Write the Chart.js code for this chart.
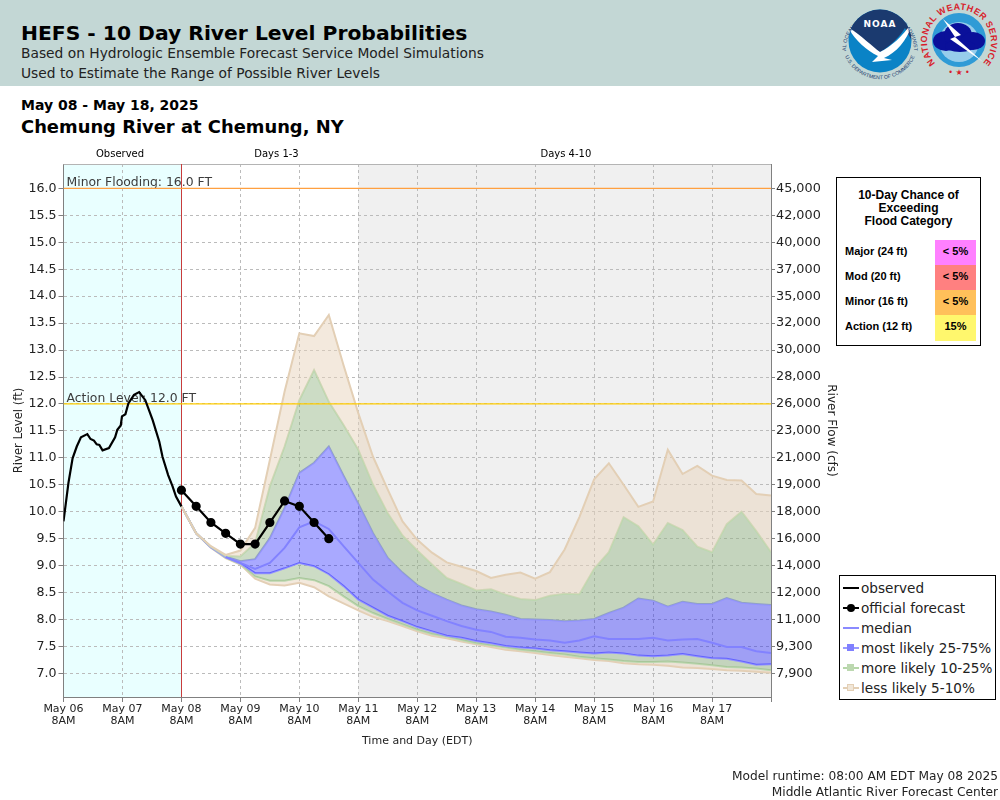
<!DOCTYPE html>
<html>
<head>
<meta charset="utf-8">
<title>HEFS - 10 Day River Level Probabilities</title>
<script src="https://cdn.jsdelivr.net/npm/chart.js@4"></script>
<style>
    html, body { margin: 0; padding: 0; background: #fff; }
    body { position: relative; width: 1000px; height: 800px; overflow: hidden; font-family: "DejaVu Sans", sans-serif; color: #000; }
    canvas { position: absolute; left: 0; top: 0; }
    .txt { position: absolute; white-space: nowrap; line-height: 1; }
    #header { position: absolute; left: 0; top: 0; width: 1000px; height: 86px; background: #c3d7d5; }
    #logos { position: absolute; left: 836px; top: 0; }
    #flood { position: absolute; left: 836px; top: 177px; width: 143px; height: 167px; border: 1px solid #000; background: #fff; font-family: "Liberation Sans", sans-serif; font-weight: bold; }
    #flood .head { position: absolute; left: 0; top: 11px; width: 143px; text-align: center; font-size: 12px; line-height: 13px; }
    #flood .name { position: absolute; left: 8px; font-size: 11px; line-height: 23px; }
    #flood .cell { position: absolute; left: 98px; width: 41px; height: 25px; font-size: 11px; line-height: 23px; text-align: center; }
    #legend { position: absolute; left: 839px; top: 575px; width: 155px; height: 123px; border: 1px solid #000; background: #fff; font-size: 13.6px; }
    #legend .row { position: absolute; left: 21px; line-height: 20px; white-space: nowrap; color: #222; }
    #legend .sw { position: absolute; left: 3px; width: 16px; height: 2px; }
    #legend .mk { position: absolute; left: 4px; top: -3px; width: 7px; height: 7px; }
    #legend .dot { position: absolute; left: 4px; top: -3px; width: 8px; height: 8px; border-radius: 50%; background: #000; }
</style>
</head>
<body>
<div id="header">
    <div class="txt" style="left:21px;top:23px;font-size:20.3px;font-weight:bold">HEFS - 10 Day River Level Probabilities</div>
    <div class="txt" style="left:21px;top:47px;font-size:13.8px;color:#222">Based on Hydrologic Ensemble Forecast Service Model Simulations</div>
    <div class="txt" style="left:21px;top:67px;font-size:13.8px;color:#222">Used to Estimate the Range of Possible River Levels</div>
    <svg id="logos" width="164" height="85" viewBox="836 0 164 85">
        <defs>
            <path id="noaaTop" d="M 846 50 A 34 34 0 1 1 914 50"/>
            <path id="noaaBot" d="M 845 56 A 38 38 0 0 0 915 56"/>
            <path id="nwsTop" d="M 936 64 A 32 32 0 1 1 982 64"/>
            <clipPath id="noaaClip"><circle cx="880" cy="41" r="31.5"/></clipPath>
        </defs>
        <circle cx="880" cy="41" r="31.5" fill="#0a83c6"/>
        <path d="M 848 41 A 32 32 0 0 1 912 41 L 905 28 C 895 44 880 52 880 52 C 868 46 858 36 848 29 Z" fill="#1b3a6f" clip-path="url(#noaaClip)"/>
        <path d="M 847 26 C 862 36 872 46 880 52 C 892 46 903 36 913 21 C 908 40 897 52 884 58 L 892 60 L 872 62 L 878 56 C 866 50 855 40 847 26 Z" fill="#fff" clip-path="url(#noaaClip)"/>
        <text x="880" y="27" text-anchor="middle" fill="#fff" font-family="DejaVu Sans" font-weight="bold" font-size="9" letter-spacing="1">NOAA</text>
        <text font-family="Liberation Sans" font-size="5.2" fill="#1b3a6f"><textPath href="#noaaTop" startOffset="50%" text-anchor="middle">NATIONAL OCEANIC AND ATMOSPHERIC ADMINISTRATION</textPath></text>
        <text font-family="Liberation Sans" font-size="5.2" fill="#1b3a6f"><textPath href="#noaaBot" startOffset="50%" text-anchor="middle">U.S. DEPARTMENT OF COMMERCE</textPath></text>

        <circle cx="959" cy="40" r="27" fill="#2f9bd6"/>
        <circle cx="959" cy="42" r="20" fill="#ffffff" opacity="0.5"/>
        <g fill="#0a109a">
            <ellipse cx="946" cy="41" rx="13" ry="10"/>
            <ellipse cx="958" cy="35" rx="14" ry="12"/>
            <ellipse cx="973" cy="41" rx="12" ry="9"/>
            <ellipse cx="960" cy="46" rx="15" ry="6"/>
        </g>
        <polygon points="943,19 961,35 955,37 973,53 983,62 966,50 950,39 955,37" fill="#fff"/>
        <text font-family="Liberation Sans" font-weight="bold" font-size="9" fill="#d81e2c" letter-spacing="0.5"><textPath href="#nwsTop" startOffset="50%" text-anchor="middle">NATIONAL WEATHER SERVICE</textPath></text>
        <text x="959" y="75" text-anchor="middle" fill="#d81e2c" font-size="8" font-family="DejaVu Sans">• ★ •</text>
    </svg>
</div>

<div class="txt" style="left:21px;top:98px;font-size:14px;font-weight:bold">May 08 - May 18, 2025</div>
<div class="txt" style="left:21px;top:118px;font-size:17.9px;font-weight:bold">Chemung River at Chemung, NY</div>

<canvas id="riverChart" width="1000" height="800"></canvas>

<div id="flood">
    <div class="head">10-Day Chance of<br>Exceeding<br>Flood Category</div>
    <div class="name" style="top:62px">Major (24 ft)</div>
    <div class="cell" style="top:62px;background:#ff80ff">&lt; 5%</div>
    <div class="name" style="top:87px">Mod (20 ft)</div>
    <div class="cell" style="top:87px;background:#ff8080">&lt; 5%</div>
    <div class="name" style="top:112px">Minor (16 ft)</div>
    <div class="cell" style="top:112px;background:#ffc05a">&lt; 5%</div>
    <div class="name" style="top:137px">Action (12 ft)</div>
    <div class="cell" style="top:137px;background:#fff76d;height:26px">15%</div>
</div>

<div id="legend">
    <div class="sw" style="top:11px;background:#000"></div>
    <div class="row" style="top:2px">observed</div>
    <div class="sw" style="top:31px;background:#000"><div class="dot"></div></div>
    <div class="row" style="top:22px">official forecast</div>
    <div class="sw" style="top:51px;background:#8a8aff"></div>
    <div class="row" style="top:42px">median</div>
    <div class="sw" style="top:71px;background:#9a9aff"><div class="mk" style="background:#8080ff"></div></div>
    <div class="row" style="top:62px">most likely 25-75%</div>
    <div class="sw" style="top:91px;background:#b5d6a8"><div class="mk" style="background:#bcd8b0"></div></div>
    <div class="row" style="top:82px">more likely 10-25%</div>
    <div class="sw" style="top:111px;background:#e3cfb5"><div class="mk" style="background:#f0e6d8;outline:1px solid #e3cfb5;outline-offset:-1px"></div></div>
    <div class="row" style="top:102px">less likely 5-10%</div>
</div>

<div class="txt" style="right:2px;top:770px;font-size:12.2px;color:#222">Model runtime: 08:00 AM EDT May 08 2025</div>
<div class="txt" style="right:2px;top:786px;font-size:12.2px;color:#222">Middle Atlantic River Forecast Center</div>

<script>
// axis labels
const dayLabels = ["May 06", "May 07", "May 08", "May 09", "May 10", "May 11", "May 12", "May 13", "May 14", "May 15", "May 16", "May 17"];
const levelTicks = [7.0, 7.5, 8.0, 8.5, 9.0, 9.5, 10.0, 10.5, 11.0, 11.5, 12.0, 12.5, 13.0, 13.5, 14.0, 14.5, 15.0, 15.5, 16.0];
const flowTicks = ["7,900", "9,300", "11,000", "12,000", "14,000", "16,000", "18,000", "19,000", "21,000", "23,000", "26,000", "28,000", "30,000", "32,000", "35,000", "37,000", "40,000", "42,000", "45,000"];

// observed stage, hours since May 06 8AM
const observedHours = [0, 2, 3.7, 5.4, 7.1, 9.7, 11, 12.4, 13.5, 14.6, 15.9, 18.5, 21, 21.9, 23.3, 23.8, 25.2, 26.4, 28.7, 30.8, 33.3, 36.3, 39, 40.3, 42.6, 44.4, 45.8, 48];
const observedLevels = [9.82, 10.53, 10.99, 11.21, 11.38, 11.44, 11.35, 11.32, 11.25, 11.24, 11.14, 11.18, 11.38, 11.52, 11.60, 11.77, 11.81, 12.01, 12.17, 12.22, 12.07, 11.70, 11.30, 11.02, 10.68, 10.47, 10.28, 10.10];

// official forecast
const forecastHours = [48, 54, 60, 66, 72, 78, 84, 90, 96, 102, 108];
const forecastLevels = [10.4, 10.1, 9.8, 9.6, 9.4, 9.4, 9.8, 10.2, 10.1, 9.8, 9.5];

// ensemble percentiles, every 6 hours
const ensembleHours = [48, 54, 60, 66, 72, 78, 84, 90, 96, 102, 108, 114, 120, 126, 132, 138, 144, 150, 156, 162, 168, 174, 180, 186, 192, 198, 204, 210, 216, 222, 228, 234, 240, 246, 252, 258, 264, 270, 276, 282, 288];
const p95 = [10.1, 9.6, 9.36, 9.2, 9.28, 9.7, 10.96, 12.23, 13.31, 13.26, 13.65, 12.72, 11.83, 11.02, 10.41, 9.82, 9.48, 9.24, 9.06, 8.98, 8.9, 8.77, 8.83, 8.87, 8.76, 8.88, 9.3, 9.9, 10.6, 10.9, 10.5, 10.09, 10.19, 11.15, 10.7, 10.85, 10.67, 10.59, 10.58, 10.33, 10.3];
const p90 = [10.1, 9.6, 9.35, 9.18, 9.17, 9.42, 10.47, 11.21, 12.07, 12.63, 12.04, 11.61, 11.15, 10.5, 9.97, 9.56, 9.28, 9.02, 8.77, 8.66, 8.54, 8.56, 8.46, 8.38, 8.36, 8.44, 8.48, 8.47, 8.94, 9.25, 9.9, 9.73, 9.39, 9.79, 9.66, 9.35, 9.25, 9.77, 10.0, 9.64, 9.25];
const p75 = [10.1, 9.6, 9.34, 9.17, 9.08, 9.12, 9.51, 10.07, 10.72, 10.91, 11.21, 10.67, 10.15, 9.6, 9.14, 8.87, 8.64, 8.49, 8.37, 8.26, 8.19, 8.15, 8.09, 8.01, 8.0, 7.99, 7.97, 7.98, 8.01, 8.12, 8.22, 8.39, 8.35, 8.24, 8.33, 8.29, 8.29, 8.4, 8.31, 8.29, 8.27];
const p50 = [null, null, null, 9.16, 9.05, 8.94, 9.05, 9.33, 9.71, 9.82, 9.68, 9.36, 9.05, 8.74, 8.52, 8.31, 8.17, 8.07, 7.97, 7.88, 7.81, 7.77, 7.68, 7.66, 7.63, 7.61, 7.57, 7.61, 7.69, 7.64, 7.64, 7.64, 7.66, 7.61, 7.63, 7.64, 7.57, 7.49, 7.49, 7.41, 7.38];
const p25 = [10.1, 9.6, 9.34, 9.16, 9.04, 8.86, 8.86, 8.95, 9.05, 8.99, 8.84, 8.62, 8.37, 8.22, 8.07, 7.97, 7.86, 7.78, 7.7, 7.66, 7.6, 7.56, 7.51, 7.48, 7.46, 7.43, 7.41, 7.39, 7.37, 7.39, 7.37, 7.33, 7.32, 7.33, 7.36, 7.32, 7.28, 7.27, 7.22, 7.16, 7.17];
const p10 = [10.1, 9.6, 9.34, 9.15, 9.03, 8.8, 8.72, 8.72, 8.77, 8.73, 8.62, 8.43, 8.25, 8.12, 8.01, 7.91, 7.81, 7.73, 7.68, 7.62, 7.56, 7.52, 7.48, 7.44, 7.41, 7.38, 7.35, 7.31, 7.28, 7.26, 7.23, 7.21, 7.21, 7.22, 7.2, 7.18, 7.15, 7.12, 7.11, 7.09, 7.06];
const p5 = [10.1, 9.6, 9.33, 9.14, 9.02, 8.76, 8.65, 8.63, 8.68, 8.6, 8.43, 8.3, 8.17, 8.05, 7.97, 7.88, 7.78, 7.7, 7.65, 7.59, 7.54, 7.49, 7.44, 7.41, 7.38, 7.34, 7.31, 7.28, 7.25, 7.23, 7.19, 7.17, 7.16, 7.14, 7.11, 7.1, 7.08, 7.06, 7.05, 7.03, 7.01];

// flood levels
const minorLevel = 16.0;
const actionLevel = 12.0;
const minorLabel = "Minor Flooding: 16.0 FT";
const actionLabel = "Action Level: 12.0 FT";

const FONT = '"DejaVu Sans", sans-serif';
const TAN_LINE = "#e3cfb5", TAN_FILL = "rgba(232,212,188,0.5)";
const GREEN_LINE = "#bcd8b0", GREEN_FILL = "rgba(142,177,127,0.45)";
const BLUE_LINE = "#9494ff", BLUE_FILL = "rgba(10,10,255,0.35)";

const toPoints = (xs, ys) => xs.map((x, i) => ({ x: x, y: ys[i] }));

function band(values, color, fill) {
    return {
        data: toPoints(ensembleHours, values),
        borderColor: color,
        borderWidth: 2,
        backgroundColor: fill || "transparent",
        fill: fill ? "+1" : false,
        pointRadius: 0,
        tension: 0,
        order: 5,
    };
}

// shaded periods, gridlines go on top of these
const periods = {
    id: "periods",
    beforeDraw(chart) {
        const { ctx, chartArea: { top, bottom, right }, scales: { x } } = chart;
        ctx.save();
        ctx.fillStyle = "#e9ffff";
        ctx.fillRect(x.getPixelForValue(0), top, x.getPixelForValue(48) - x.getPixelForValue(0), bottom - top);
        ctx.fillStyle = "#f0f0f0";
        ctx.fillRect(x.getPixelForValue(120), top, right - x.getPixelForValue(120), bottom - top);
        ctx.restore();
    },
    beforeDatasetsDraw(chart) {
        const { ctx, chartArea: { left, right, top, bottom }, scales: { x, y } } = chart;
        ctx.save();
        // top edge of the frame
        ctx.strokeStyle = "#b4b4b4";
        ctx.lineWidth = 1;
        ctx.beginPath();
        ctx.moveTo(left, top + 0.5);
        ctx.lineTo(right, top + 0.5);
        ctx.stroke();
        // flood level captions
        ctx.fillStyle = "#3c3c3c";
        ctx.font = "12.4px " + FONT;
        ctx.textAlign = "left";
        ctx.fillText(minorLabel, x.getPixelForValue(0) + 3, y.getPixelForValue(minorLevel) - 2);
        ctx.fillText(actionLabel, x.getPixelForValue(0) + 3, y.getPixelForValue(actionLevel) - 2);
        // period names
        ctx.fillStyle = "#000";
        ctx.font = "10px " + FONT;
        ctx.textAlign = "center";
        ctx.fillText("Observed", x.getPixelForValue(23), top - 7);
        ctx.fillText("Days 1-3", x.getPixelForValue(86.7), top - 7);
        ctx.fillText("Days 4-10", x.getPixelForValue(204.5), top - 7);
        // forecast start
        const nowX = Math.round(x.getPixelForValue(48)) + 0.5;
        ctx.strokeStyle = "#c83c3c";
        ctx.beginPath();
        ctx.moveTo(nowX, top);
        ctx.lineTo(nowX, bottom);
        ctx.stroke();
        ctx.restore();
    },
};

const config = {
    type: "line",
    data: {
        datasets: [
            {
                data: toPoints(forecastHours, forecastLevels),
                borderColor: "#000",
                backgroundColor: "#000",
                borderWidth: 2.2,
                pointRadius: 3.5,
                tension: 0,
                order: 0,
            },
            {
                data: toPoints(observedHours, observedLevels),
                borderColor: "#000",
                borderWidth: 2.2,
                pointRadius: 0,
                tension: 0,
                order: 1,
            },
            {
                data: toPoints(ensembleHours, p50),
                borderColor: "#8282ff",
                borderWidth: 2,
                pointRadius: 0,
                tension: 0,
                order: 2,
            },
            {
                data: toPoints([0, 288], [minorLevel, minorLevel]),
                borderColor: "#ffa040",
                borderWidth: 1.2,
                pointRadius: 0,
                order: 3,
            },
            {
                data: toPoints([0, 288], [actionLevel, actionLevel]),
                borderColor: "#ffcc00",
                borderWidth: 1.2,
                pointRadius: 0,
                order: 3,
            },
            band(p95, TAN_LINE, TAN_FILL),
            band(p90, GREEN_LINE, GREEN_FILL),
            band(p75, BLUE_LINE, BLUE_FILL),
            band(p25, BLUE_LINE, GREEN_FILL),
            band(p10, GREEN_LINE, TAN_FILL),
            band(p5, TAN_LINE),
        ],
    },
    options: {
        responsive: false,
        animation: false,
        layout: { padding: { left: 0, right: 160, top: 164, bottom: 50 } },
        plugins: { legend: { display: false }, title: { display: false }, tooltip: { enabled: false } },
        scales: {
            x: {
                type: "linear",
                min: 0,
                max: 288,
                afterFit(scale) { scale.height = 53; },
                afterBuildTicks(scale) {
                    scale.ticks = dayLabels.map((d, i) => ({ value: i * 24 })).concat([{ value: 288 }]);
                },
                ticks: {
                    autoSkip: false,
                    maxRotation: 0,
                    padding: 1,
                    color: "#222",
                    font: { family: FONT, size: 11, lineHeight: 1.1 },
                    callback(value) {
                        const name = dayLabels[value / 24];
                        return name ? [name, "8AM"] : "";
                    },
                },
                grid: { color: "#bbb", tickColor: "#808080", tickLength: 5 },
                border: { color: "#808080", dash: [3, 3] },
                title: {
                    display: true,
                    text: "Time and Day (EDT)",
                    color: "#222",
                    font: { family: FONT, size: 11 },
                    padding: { top: 6, bottom: 2 },
                },
            },
            y: {
                type: "linear",
                position: "left",
                min: 6.562,
                max: 16.453,
                afterFit(scale) { scale.width = 63.5; },
                afterBuildTicks(scale) { scale.ticks = levelTicks.map((v) => ({ value: v })); },
                ticks: {
                    padding: 2,
                    color: "#222",
                    font: { family: FONT, size: 12.6 },
                    callback(value) { return value.toFixed(1); },
                },
                grid: { color: "#bbb", tickColor: "#808080", tickLength: 5 },
                border: { color: "#808080", dash: [3, 3] },
                title: {
                    display: true,
                    text: "River Level (ft)",
                    color: "#222",
                    font: { family: FONT, size: 11.6 },
                    padding: { top: 12, bottom: 0 },
                },
            },
            y2: {
                type: "linear",
                position: "right",
                min: 6.562,
                max: 16.453,
                afterFit(scale) { scale.width = 69; },
                afterBuildTicks(scale) { scale.ticks = levelTicks.map((v) => ({ value: v })); },
                ticks: {
                    padding: 1,
                    color: "#222",
                    font: { family: FONT, size: 12.8 },
                    callback(value) { return flowTicks[levelTicks.indexOf(value)]; },
                },
                grid: { drawOnChartArea: false, tickColor: "#808080", tickLength: 4 },
                border: { color: "#808080" },
                title: {
                    display: true,
                    text: "River Flow (cfs)",
                    color: "#222",
                    font: { family: FONT, size: 12 },
                    padding: { top: 2, bottom: 0 },
                },
            },
        },
    },
    plugins: [periods],
};

var ctx = document.getElementById("riverChart").getContext("2d");
var riverChart = new Chart(ctx, config);
</script>
</body>
</html>
